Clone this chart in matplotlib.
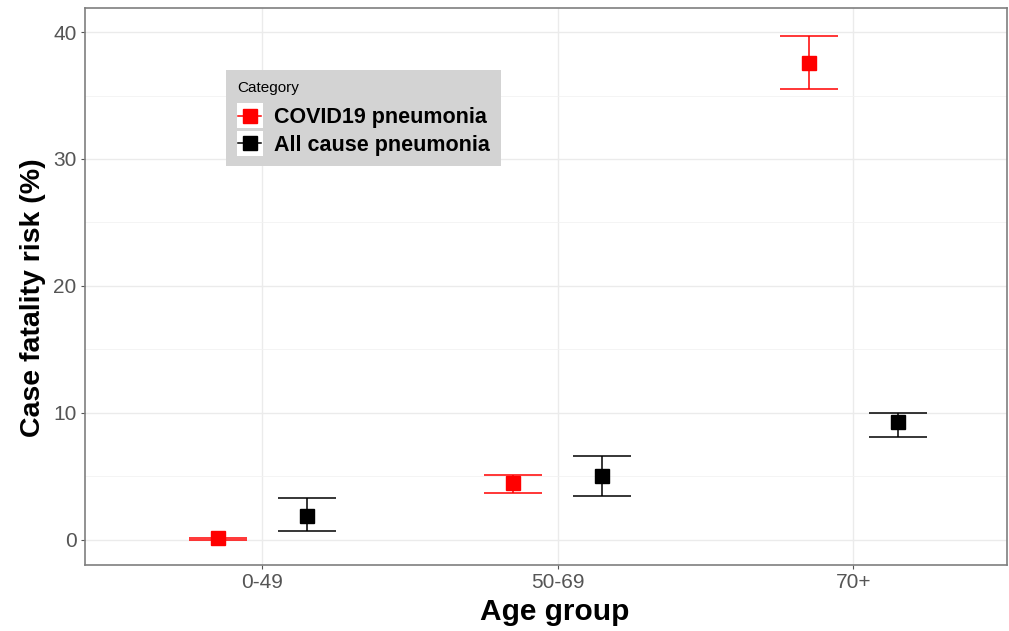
import matplotlib
matplotlib.use("Agg")
import matplotlib.pyplot as plt
from matplotlib.legend_handler import HandlerBase
from matplotlib.patches import Rectangle
from matplotlib.lines import Line2D
import numpy as np

age_groups = ["0-49", "50-69", "70+"]
categories = ["COVID19 pneumonia", "All cause pneumonia"]
colors = ["#ff0000", "#000000"]
covid_est = [0.1, 4.5, 37.6]
covid_lo = [0.0, 3.7, 35.5]
covid_hi = [0.15, 5.1, 39.7]
all_est = [1.9, 5.0, 9.3]
all_lo = [0.7, 3.4, 8.1]
all_hi = [3.3, 6.6, 10.0]

plt.rcParams['font.family'] = ['Liberation Sans', 'DejaVu Sans']


class KeyHandler(HandlerBase):
    def create_artists(self, legend, orig_handle, xdescent, ydescent, width,
                       height, fontsize, trans):
        c = orig_handle.get_color()
        bg = Rectangle((-xdescent, -ydescent - 3), width, height + 6,
                       facecolor='white', edgecolor='none', transform=trans)
        ln = Line2D([-xdescent + 1, -xdescent + width - 1],
                    [height / 2 - ydescent] * 2, color=c, linewidth=1.1,
                    transform=trans)
        mk = Line2D([width / 2 - xdescent], [height / 2 - ydescent],
                    marker='s', markersize=9.5, color=c, linestyle='none',
                    transform=trans)
        return [bg, ln, mk]


fig = plt.figure(figsize=(10.09, 6.31), dpi=100)
ax = fig.add_axes([85/1009, 1-565/631, (1007-85)/1009, (565-8)/631])

x = np.arange(1, len(age_groups)+1)
dodge = 0.15
series = [(covid_est, covid_lo, covid_hi), (all_est, all_lo, all_hi)]
handles = []
for i, (est, lo, hi) in enumerate(series):
    est = np.array(est); lo = np.array(lo); hi = np.array(hi)
    xs = x + (-dodge if i == 0 else dodge)
    ax.errorbar(xs, est, yerr=[est-lo, hi-est], fmt='s', color=colors[i],
                ecolor=colors[i], elinewidth=1.1, capsize=21, capthick=1.1,
                markersize=9.5, zorder=3)
    handles.append(Line2D([], [], color=colors[i], label=categories[i]))

ax.set_xlim(0.4, 3.52)
ax.set_ylim(-2, 41.9)
ax.set_xticks(x)
ax.set_xticklabels(age_groups)
ax.set_yticks([0, 10, 20, 30, 40])
ax.set_yticks([5, 15, 25, 35], minor=True)
ax.grid(True, which='major', color='#ebebeb', linewidth=1.0, zorder=0)
ax.grid(True, which='minor', axis='y', color='#f2f2f2', linewidth=0.6, zorder=0)
ax.set_axisbelow(True)
ax.tick_params(axis='both', which='major', labelsize=15, colors='#555555',
               length=3, width=0.8, labelcolor='#555555', pad=3)
ax.tick_params(axis='y', which='minor', length=0)
for s in ax.spines.values():
    s.set_color('#7f7f7f')
    s.set_linewidth(1.2)

ax.set_xlabel("Age group", fontsize=21.5, fontweight='bold')
ax.set_ylabel("Case fatality risk (%)", fontsize=20.5, fontweight='bold')
ax.xaxis.set_label_coords((555-85)/922, -(598-565)/557)
ax.yaxis.set_label_coords(-(85-46)/922, 1-(298-8)/557)

leg = ax.legend(handles=handles, title="Category", loc='upper left',
                bbox_to_anchor=((226-85)/922, 1-(70-8)/557),
                handler_map={Line2D: KeyHandler()},
                frameon=True, facecolor='#d3d3d3', edgecolor='none', framealpha=1,
                fancybox=False, prop={'weight': 'bold', 'size': 15.5},
                title_fontsize=11, handlelength=1.2, handleheight=0.8,
                handletextpad=0.55, borderpad=0.5, labelspacing=0.3,
                borderaxespad=0)
leg._legend_box.align = "left"
leg._legend_box.sep = 9

fig.savefig("out.png", dpi=100)
